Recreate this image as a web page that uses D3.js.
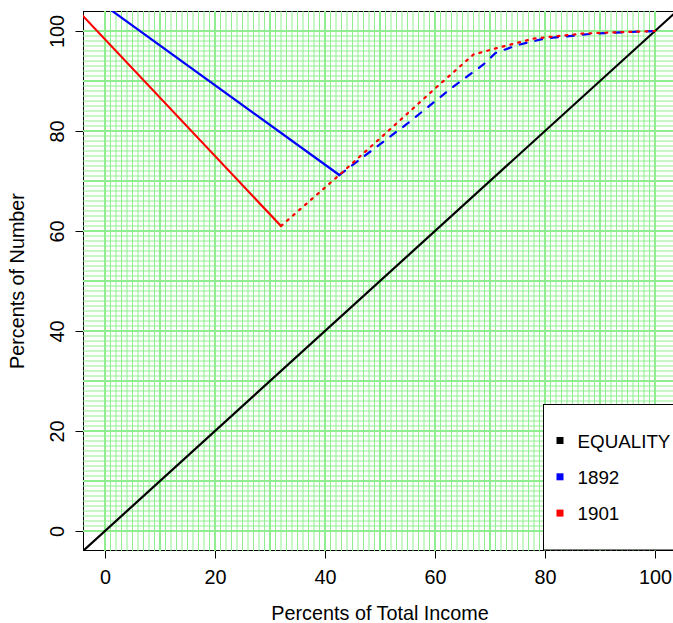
<!DOCTYPE html>
<html>
<head>
<meta charset="utf-8">
<script src="https://cdn.jsdelivr.net/npm/d3@7"></script>
<style>
  body { margin: 0; background: #fff; }
  svg { display: block; font-family: "Liberation Sans", Arial, sans-serif; }
  .axis path.domain { display: none; }
  .axis line { stroke: #000; }
</style>
</head>
<body>
<div class="container"></div>
<script>
const WIDTH = 673;
const HEIGHT = 623;
const LEFT = 83;
const RIGHT = 677;
const TOP = 11;
const BOTTOM = 551;
const FONT = 19.8;
const LEGEND_FONT = 18.8;

// axis ticks and grid
const xTicks = [0, 20, 40, 60, 80, 100];
const yTicks = [0, 20, 40, 60, 80, 100];
const gridMinor = d3.range(0, 101, 1);
const gridMajor = d3.range(0, 101, 10);

// line of equal distribution
const equality = [[-10, -10], [110, 110]];

// 1892: straight part and curve
const solid1892 = [[-10, 113], [42.6, 71.2]];
const curve1892 = [[42.6, 71.2], [55, 81.5], [63, 88.6], [68.8, 93.3], [71, 95.6],
  [75, 97.2], [80, 98.5], [89, 99.5], [100, 100]];

// 1901: straight part and curve
const solid1901 = [[-10, 110], [32, 61]];
const curve1901 = [[32, 61], [42.6, 71.2], [52.4, 80.9], [60, 88.5], [67, 95.3],
  [72, 96.8], [78, 98.5], [87, 99.5], [100, 100]];

const legendLabels = ['EQUALITY', '1892', '1901'];
const legendColors = ['black', 'blue', 'red'];

var x = d3.scaleLinear().domain([-4, 104]).range([LEFT, RIGHT]);
var y = d3.scaleLinear().domain([-4, 104]).range([BOTTOM, TOP]);

var svg = d3.select('.container').append('svg')
  .attr('width', WIDTH)
  .attr('height', HEIGHT);

svg.append('defs').append('clipPath').attr('id', 'plot')
  .append('rect')
  .attr('x', LEFT).attr('y', TOP)
  .attr('width', RIGHT - LEFT).attr('height', BOTTOM - TOP);

// box
svg.append('rect')
  .attr('x', LEFT + 0.5).attr('y', TOP + 0.5)
  .attr('width', RIGHT - LEFT).attr('height', BOTTOM - TOP - 1)
  .attr('fill', 'none').attr('stroke', '#000');

var plot = svg.append('g').attr('clip-path', 'url(#plot)');

// grid: every unit, heavier every ten
function grid(values, width) {
  plot.append('g').selectAll('line.v')
    .data(values).enter().append('line')
    .attr('x1', function (d) { return x(d); })
    .attr('x2', function (d) { return x(d); })
    .attr('y1', TOP).attr('y2', BOTTOM)
    .attr('stroke', 'lightgreen').attr('stroke-width', width);
  plot.append('g').selectAll('line.h')
    .data(values).enter().append('line')
    .attr('y1', function (d) { return y(d); })
    .attr('y2', function (d) { return y(d); })
    .attr('x1', LEFT).attr('x2', RIGHT)
    .attr('stroke', 'lightgreen').attr('stroke-width', width);
}
grid(gridMinor, 1);
grid(gridMajor, 2);

var line = d3.line()
  .x(function (d) { return x(d[0]); })
  .y(function (d) { return y(d[1]); });

function drawLine(data, color, dash, cap) {
  plot.append('path')
    .attr('d', line(data))
    .attr('fill', 'none')
    .attr('stroke', color)
    .attr('stroke-width', 2.2)
    .attr('stroke-linecap', cap || 'round')
    .attr('stroke-dasharray', dash || null);
}

drawLine(equality, 'black');
drawLine(solid1892, 'blue');
drawLine(curve1892, 'blue', '7,9');
drawLine(solid1901, 'red');
drawLine(curve1901, 'red', '2,6');

// axes
var xAxis = svg.append('g')
  .attr('class', 'axis')
  .attr('transform', 'translate(0,' + BOTTOM + ')')
  .call(d3.axisBottom(x).tickValues(xTicks).tickSize(7.5).tickPadding(11));
xAxis.selectAll('text').attr('font-size', FONT).attr('fill', '#000')
  .attr('font-family', '"Liberation Sans", Arial, sans-serif');

var yAxis = svg.append('g')
  .attr('class', 'axis')
  .attr('transform', 'translate(' + LEFT + ',0)')
  .call(d3.axisLeft(y).tickValues(yTicks).tickSize(7.5));
yAxis.selectAll('text')
  .attr('x', null).attr('dy', null)
  .attr('transform', 'translate(-19.5,0) rotate(-90)')
  .attr('text-anchor', 'middle')
  .attr('font-size', FONT).attr('fill', '#000')
  .attr('font-family', '"Liberation Sans", Arial, sans-serif');

// axis titles
svg.append('text')
  .attr('x', (LEFT + RIGHT) / 2).attr('y', 620)
  .attr('text-anchor', 'middle').attr('font-size', FONT)
  .text('Percents of Total Income');

svg.append('text')
  .attr('transform', 'translate(24,' + (TOP + BOTTOM) / 2 + ') rotate(-90)')
  .attr('text-anchor', 'middle').attr('font-size', FONT)
  .text('Percents of Number');

// legend in the bottom right corner
var legend = svg.append('g');
legend.append('rect')
  .attr('x', 543.5).attr('y', 404.5)
  .attr('width', RIGHT - 543.5).attr('height', BOTTOM - 404.5 - 1)
  .attr('fill', '#fff').attr('stroke', '#000');

var item = legend.selectAll('g.item')
  .data(legendLabels).enter().append('g')
  .attr('transform', function (d, i) { return 'translate(0,' + (440.5 + i * 36.3) + ')'; });

item.append('rect')
  .attr('x', 556.5).attr('y', -3.5)
  .attr('width', 7).attr('height', 7)
  .attr('fill', function (d, i) { return legendColors[i]; });

item.append('text')
  .attr('x', 577.5).attr('y', 7)
  .attr('font-size', LEGEND_FONT)
  .text(function (d) { return d; });
</script>
</body>
</html>
